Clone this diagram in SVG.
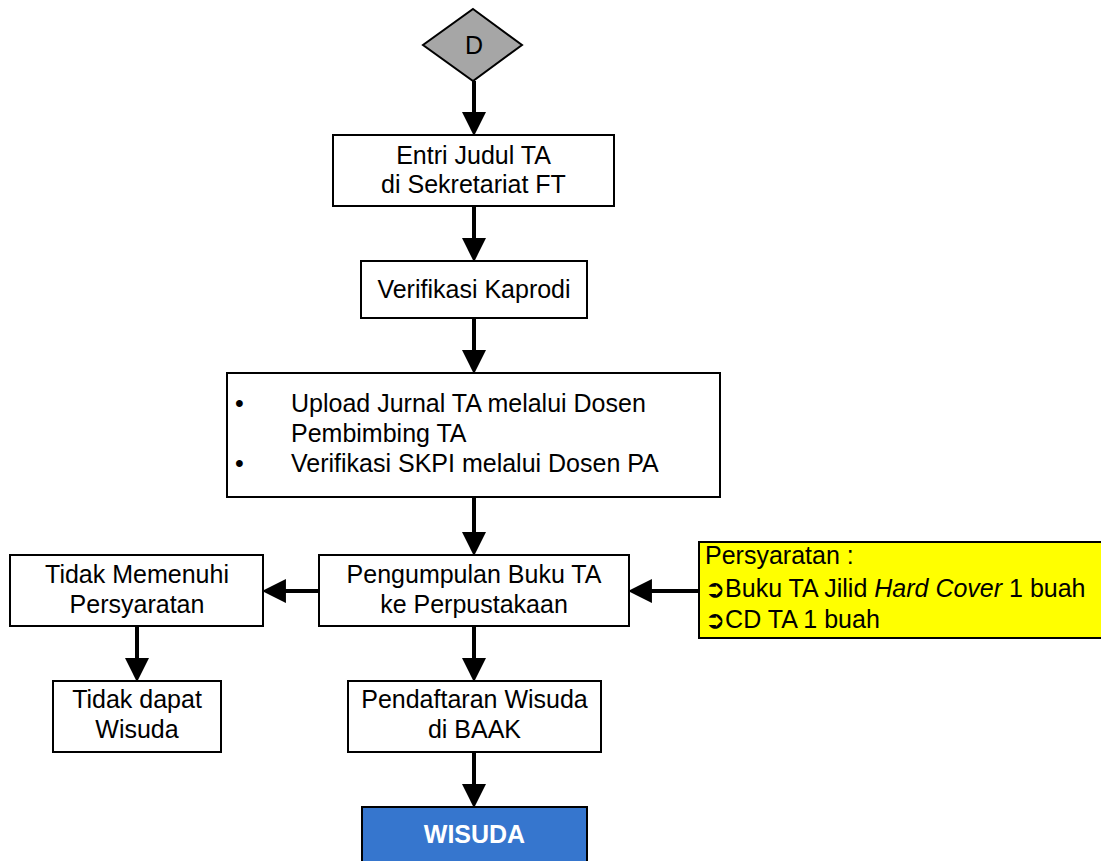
<svg xmlns="http://www.w3.org/2000/svg" width="1101" height="861" viewBox="0 0 1101 861">
<style>
  text { font-family: "Liberation Sans", Arial, sans-serif; font-size: 25px; fill: #000; }
  .c { text-anchor: middle; }
  .box { fill: #fff; stroke: #000; stroke-width: 2; }
  .conn { stroke: #000; stroke-width: 4; fill: none; marker-end: url(#arr); }
  .sym { font-family: "DejaVu Sans", sans-serif; font-size: 24px; font-weight: bold; }
</style>
<defs>
  <marker id="arr" markerUnits="userSpaceOnUse" markerWidth="24" markerHeight="24" viewBox="0 0 22 22" refX="10" refY="11" orient="auto">
    <path d="M0,0 L22,11 L0,22 z" fill="#000"/>
  </marker>
</defs>
<rect width="1101" height="861" fill="#fff"/>

<g id="connectors">
  <line class="conn" x1="474" y1="81" x2="474" y2="123"/>
  <line class="conn" x1="474" y1="206" x2="474" y2="249"/>
  <line class="conn" x1="474" y1="318" x2="474" y2="361"/>
  <line class="conn" x1="474" y1="497" x2="474" y2="543"/>
  <line class="conn" x1="474" y1="626" x2="474" y2="669"/>
  <line class="conn" x1="474" y1="752" x2="474" y2="795"/>
  <line class="conn" x1="319" y1="591" x2="275" y2="591"/>
  <line class="conn" x1="699" y1="591" x2="641" y2="591"/>
  <line class="conn" x1="137" y1="626" x2="137" y2="669"/>
</g>

<g id="node-d">
  <polygon points="473,9 522,45 473,81 423,45" fill="#A6A6A6" stroke="#000" stroke-width="2"/>
  <text class="c" x="474" y="54">D</text>
</g>

<g id="node-entri">
  <rect class="box" x="333" y="135" width="281" height="71"/>
  <text class="c" x="473.5" y="164">Entri Judul TA</text>
  <text class="c" x="473.5" y="193">di Sekretariat FT</text>
</g>

<g id="node-verifikasi">
  <rect class="box" x="361" y="261" width="226" height="57"/>
  <text class="c" x="474" y="298">Verifikasi Kaprodi</text>
</g>

<g id="node-upload">
  <rect class="box" x="227" y="373" width="493" height="124"/>
  <text x="235" y="412">•</text>
  <text x="291" y="412">Upload Jurnal TA melalui Dosen</text>
  <text x="291" y="442">Pembimbing TA</text>
  <text x="235" y="472">•</text>
  <text x="291" y="472">Verifikasi SKPI melalui Dosen PA</text>
</g>

<g id="node-pengumpulan">
  <rect class="box" x="319" y="555" width="310" height="71"/>
  <text class="c" x="474" y="583">Pengumpulan Buku TA</text>
  <text class="c" x="474" y="613">ke Perpustakaan</text>
</g>

<g id="node-tidak-memenuhi">
  <rect class="box" x="10" y="555" width="253" height="71"/>
  <text class="c" x="137" y="583">Tidak Memenuhi</text>
  <text class="c" x="137" y="613">Persyaratan</text>
</g>

<g id="node-tidak-dapat">
  <rect class="box" x="53" y="681" width="168" height="71"/>
  <text class="c" x="137" y="708">Tidak dapat</text>
  <text class="c" x="137" y="738">Wisuda</text>
</g>

<g id="node-pendaftaran">
  <rect class="box" x="348" y="681" width="253" height="71"/>
  <text class="c" x="474.5" y="708">Pendaftaran Wisuda</text>
  <text class="c" x="474.5" y="738">di BAAK</text>
</g>

<g id="node-wisuda">
  <rect x="362" y="807" width="225" height="70" fill="#3676CE" stroke="#000" stroke-width="2"/>
  <text class="c" x="474.5" y="843" style="font-weight:bold; fill:#fff">WISUDA</text>
</g>

<g id="node-persyaratan">
  <rect x="699" y="542" width="410" height="96" fill="#FFFF00" stroke="#000" stroke-width="2"/>
  <text x="705" y="564">Persyaratan :</text>
  <text x="705" y="597"><tspan class="sym">➲</tspan>Buku TA Jilid <tspan font-style="italic">Hard Cover</tspan> 1 buah</text>
  <text x="705" y="628"><tspan class="sym">➲</tspan>CD TA 1 buah</text>
</g>
</svg>
